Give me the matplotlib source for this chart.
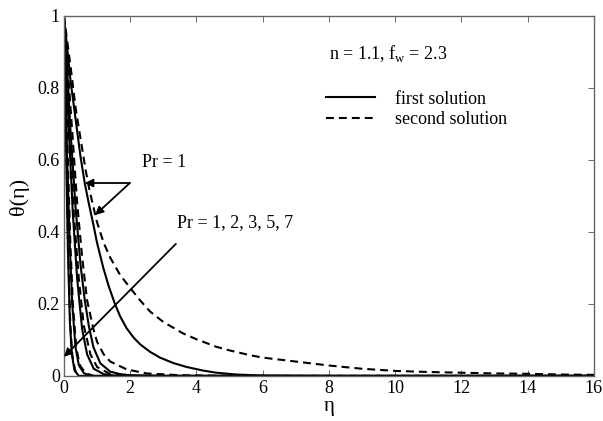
import matplotlib
matplotlib.use("Agg")
import matplotlib.pyplot as plt
from matplotlib.lines import Line2D

plt.rcParams['font.family'] = ['Liberation Serif', 'DejaVu Serif']
plt.rcParams['mathtext.fontset'] = 'custom'
plt.rcParams['mathtext.rm'] = 'Liberation Serif'

# first solution (solid) curves, eta / theta pairs
eta_s1 = [0, 0.1, 0.2, 0.3, 0.4, 0.5, 0.63, 0.75, 0.89, 1.0, 1.19, 1.35, 1.54, 1.7, 1.89,
          2.1, 2.3, 2.6, 2.9, 3.3, 3.7, 4.2, 4.6, 5.2, 6.0, 8.0, 16]
th_s1 = [1, 0.91, 0.82, 0.75, 0.68, 0.61, 0.535, 0.48, 0.42, 0.37, 0.30, 0.25, 0.20, 0.165, 0.133,
         0.107, 0.088, 0.067, 0.051, 0.036, 0.025, 0.015, 0.009, 0.004, 0.001, 0, 0]
eta_s2 = [0, 0.1, 0.2, 0.35, 0.5, 0.63, 0.75, 0.89, 1.1, 1.4, 1.7, 2.0, 3.0, 16]
th_s2 = [1, 0.85, 0.68, 0.47, 0.31, 0.21, 0.14, 0.08, 0.035, 0.012, 0.005, 0.002, 0, 0]
eta_s3 = [0, 0.07, 0.15, 0.27, 0.4, 0.55, 0.7, 0.9, 1.2, 1.6, 16]
th_s3 = [1, 0.85, 0.68, 0.45, 0.27, 0.13, 0.06, 0.02, 0.005, 0, 0]
eta_s5 = [0, 0.05, 0.1, 0.17, 0.25, 0.35, 0.45, 0.6, 0.8, 16]
th_s5 = [1, 0.8, 0.6, 0.38, 0.2, 0.08, 0.03, 0.008, 0, 0]
eta_s7 = [0, 0.04, 0.08, 0.12, 0.18, 0.24, 0.32, 0.45, 16]
th_s7 = [1, 0.78, 0.55, 0.35, 0.15, 0.06, 0.015, 0, 0]

# second solution (dashed) curves
eta_d1 = [0, 0.1, 0.2, 0.36, 0.5, 0.66, 0.77, 0.99, 1.2, 1.39, 1.7, 2.04, 2.3, 2.6, 3.0, 3.6,
          4.0, 4.6, 5.0, 5.6, 6.0, 7.0, 8.0, 9.0, 10, 11, 12, 13, 14, 15, 16]
th_d1 = [1, 0.93, 0.86, 0.74, 0.66, 0.57, 0.517, 0.43, 0.37, 0.33, 0.28, 0.24, 0.21, 0.179, 0.15, 0.118,
         0.102, 0.081, 0.071, 0.058, 0.051, 0.04, 0.029, 0.02, 0.014, 0.011, 0.009, 0.007, 0.006, 0.004, 0.003]
eta_d2 = [0, 0.12, 0.25, 0.4, 0.55, 0.7, 0.89, 1.0, 1.2, 1.4, 1.9, 2.5, 3.5, 5.0, 16]
th_d2 = [1, 0.85, 0.68, 0.48, 0.33, 0.21, 0.13, 0.095, 0.06, 0.04, 0.018, 0.007, 0.002, 0, 0]
eta_d3 = [0, 0.08, 0.17, 0.3, 0.45, 0.6, 0.8, 1.0, 1.4, 2.0, 16]
th_d3 = [1, 0.85, 0.68, 0.45, 0.27, 0.14, 0.06, 0.025, 0.005, 0, 0]
eta_d5 = [0, 0.06, 0.12, 0.19, 0.27, 0.37, 0.48, 0.65, 0.9, 16]
th_d5 = [1, 0.8, 0.6, 0.38, 0.2, 0.08, 0.03, 0.008, 0, 0]
eta_d7 = [0, 0.05, 0.09, 0.13, 0.19, 0.25, 0.34, 0.5, 16]
th_d7 = [1, 0.78, 0.55, 0.35, 0.15, 0.06, 0.015, 0, 0]

solid = [(eta_s1, th_s1), (eta_s2, th_s2), (eta_s3, th_s3), (eta_s5, th_s5), (eta_s7, th_s7)]
dashed = [(eta_d1, th_d1), (eta_d2, th_d2), (eta_d3, th_d3), (eta_d5, th_d5), (eta_d7, th_d7)]

fig = plt.figure(figsize=(6.03, 4.21), dpi=100)
ax = fig.add_axes([0.106, 0.107, 0.879, 0.855])

lw = 1.5
dash = (0, (3.8, 2.4))
for x, y in dashed:
    ax.plot(x, y, color='black', lw=lw, linestyle=dash)
for x, y in solid:
    ax.plot(x, y, color='black', lw=lw)

ax.set_xlim(0, 16)
ax.set_ylim(0, 1)
ax.set_xticks(range(0, 17, 2))
ax.set_yticks([0, 0.2, 0.4, 0.6, 0.8, 1])
ax.set_yticklabels(['0', '0.2', '0.4', '0.6', '0.8', '1'])
ax.tick_params(direction='in', top=True, right=True, length=4, width=0.6,
               labelsize=13, colors='#555555', labelcolor='black', pad=3)
for sp in ax.spines.values():
    sp.set_color('#666666')
    sp.set_linewidth(1.0)

ax.set_xlabel('η', fontsize=15, labelpad=0)
ax.set_ylabel('θ(η)', fontsize=16, labelpad=6)

ax.text(8.0, 0.897, 'n = 1.1, f$_{\\rm w}$ = 2.3', fontsize=13, va='center')
handles = [Line2D([], [], color='black', lw=lw),
           Line2D([], [], color='black', lw=lw, linestyle=dash)]
ax.legend(handles, ['first solution', 'second solution'], loc='center left',
          bbox_to_anchor=(0.495, 0.74), frameon=False, fontsize=13,
          handlelength=2.7, handletextpad=1.1, labelspacing=0.2, borderpad=0, borderaxespad=0)

# Pr = 1 annotation with two arrows
ax.text(2.36, 0.592, 'Pr = 1', fontsize=13, va='center')
arrow = dict(arrowstyle='-|>', color='black', lw=1.3, mutation_scale=12, shrinkA=0, shrinkB=0)
ax.annotate('', xy=(0.63, 0.536), xytext=(1.99, 0.536), arrowprops=arrow)
ax.annotate('', xy=(0.94, 0.447), xytext=(1.99, 0.536), arrowprops=arrow)

# Pr = 1, 2, 3, 5, 7 annotation
ax.text(3.41, 0.425, 'Pr = 1, 2, 3, 5, 7', fontsize=13, va='center')
ax.annotate('', xy=(0.0, 0.053), xytext=(3.38, 0.367), arrowprops=arrow)

fig.savefig('out.png', dpi=100)
